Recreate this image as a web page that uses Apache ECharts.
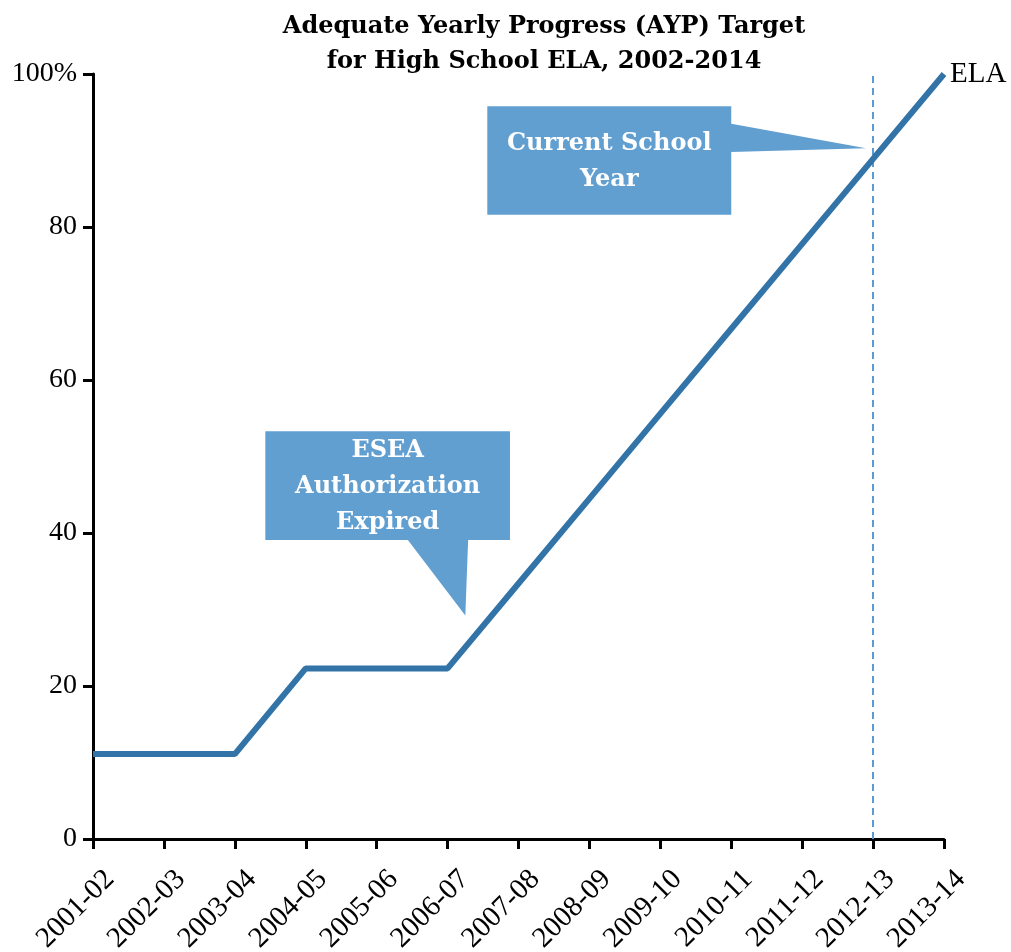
<!DOCTYPE html>
<html><head><meta charset="utf-8">
<script src="https://cdn.jsdelivr.net/npm/echarts@6/dist/echarts.min.js"></script>
<style>html,body{margin:0;padding:0;background:#fff}#c{width:1011px;height:952px}</style>
</head><body><div id="c"></div>
<script>
const categories = ['2001-02','2002-03','2003-04','2004-05','2005-06','2006-07','2007-08','2008-09','2009-10','2010-11','2011-12','2012-13','2013-14'];
const elaValues = [11.1, 11.1, 11.1, 22.3, 22.3, 22.3, 33.4, 44.5, 55.6, 66.7, 77.8, 88.9, 100];
const yTicks = [0, 20, 40, 60, 80, 100];
const currentYear = '2012-13';
const seriesName = 'ELA';

const SERIF = '"Liberation Serif","DejaVu Serif",serif';
const BOLD_SERIF = '"DejaVu Serif","Liberation Serif",serif';
const chart = echarts.init(document.getElementById('c'));
chart.setOption({
  animation: false,
  backgroundColor: '#fff',
  title: {
    text: 'Adequate Yearly Progress (AYP) Target\nfor High School ELA, 2002-2014',
    left: 539, top: 4, textAlign: 'center',
    textStyle: { fontFamily: BOLD_SERIF, fontWeight: 'bold', fontSize: 24, lineHeight: 35, color: '#000' }
  },
  grid: { left: 93, right: 67, top: 74, bottom: 113, containLabel: false, outerBoundsMode: 'none' },
  xAxis: {
    type: 'category', data: categories, boundaryGap: false,
    axisLine: { lineStyle: { color: '#000', width: 3 } },
    axisTick: { show: true, length: 10, lineStyle: { color: '#000', width: 3 } },
    axisLabel: { rotate: 45, fontFamily: SERIF, fontSize: 29, color: '#000', margin: 19, interval: 0,
      verticalAlign: 'top', lineHeight: 48 },
    splitLine: { show: false }
  },
  yAxis: {
    type: 'value', min: yTicks[0], max: yTicks[yTicks.length - 1], interval: 20,
    axisLine: { show: true, lineStyle: { color: '#000', width: 3 } },
    axisTick: { show: true, length: 10, lineStyle: { color: '#000', width: 3 } },
    axisLabel: { fontFamily: SERIF, fontSize: 28, color: '#000', margin: 16,
      formatter: v => v === 100 ? '100%' : String(v) },
    splitLine: { show: false }
  },
  series: [{
    name: seriesName, type: 'line', data: elaValues, symbol: 'none',
    lineStyle: { color: '#3274a8', width: 6 },
    endLabel: { show: true, formatter: seriesName, fontFamily: SERIF, fontSize: 29, color: '#000', distance: 6 },
    markLine: {
      silent: true, symbol: 'none', label: { show: false },
      lineStyle: { color: '#5b9bd5', type: [7, 5], width: 2 },
      data: [{ xAxis: currentYear }]
    },
    z: 5
  }]
});

// Callouts anchored in data space: [categoryIndex (fractional), value]
const callouts = [
  { text: 'Current School\nYear', box: [[5.56, 95.8], [9.0, 81.6]],
    pointer: [[9.0, 93.5], [10.9, 90.3], [9.0, 89.8]], side: 'right' },
  { text: 'ESEA\nAuthorization\nExpired', box: [[2.43, 53.3], [5.88, 39.1]],
    pointer: [[5.29, 39.1], [5.25, 29.2], [4.44, 39.1]], side: 'bottom' }
];
const x0 = chart.convertToPixel({ gridIndex: 0 }, [0, 0])[0];
const xN = chart.convertToPixel({ gridIndex: 0 }, [categories.length - 1, 0])[0];
const step = (xN - x0) / (categories.length - 1);
const px = p => [x0 + p[0] * step, chart.convertToPixel({ gridIndex: 0 }, [0, p[1]])[1]];
const graphics = [];
callouts.forEach(c => {
  const tl = px(c.box[0]), br = px(c.box[1]);
  const pts = c.pointer.map(px);
  let poly;
  if (c.side === 'right') {
    poly = [tl, [br[0], tl[1]], [br[0], pts[0][1]], pts[1], [br[0], pts[2][1]], br, [tl[0], br[1]]];
  } else {
    poly = [tl, [br[0], tl[1]], br, [pts[0][0], br[1]], pts[1], [pts[2][0], br[1]], [tl[0], br[1]]];
  }
  graphics.push({ type: 'polygon', shape: { points: poly }, style: { fill: '#629fd1' }, z: 10 });
  graphics.push({ type: 'text', x: (tl[0] + br[0]) / 2, y: (tl[1] + br[1]) / 2 + 1, z: 11,
    style: { text: c.text, fill: '#fff', font: 'bold 24px ' + BOLD_SERIF, lineHeight: 36, align: 'center', verticalAlign: 'middle' } });
});
chart.setOption({ graphic: graphics });
</script></body></html>
